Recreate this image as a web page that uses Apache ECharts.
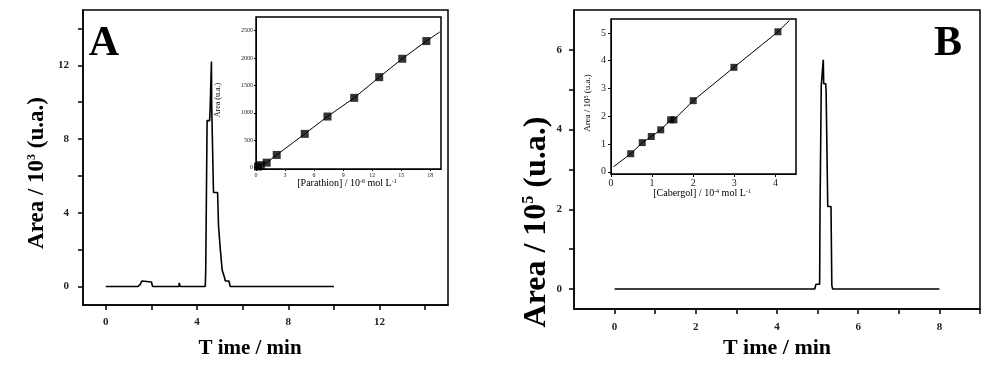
<!DOCTYPE html>
<html><head><meta charset="utf-8">
<script src="https://cdn.jsdelivr.net/npm/echarts@6/dist/echarts.min.js"></script>
<style>html,body{margin:0;padding:0;background:#fff}#c{width:1000px;height:379px}</style>
</head><body><div id="c"></div>
<script>
// Panel A chromatogram (time in min, area /10^3)
const chromA_t = [0,0.25,0.3,0.35,0.6,0.65,0.7,1.4,1.45,1.5,1.58,1.65,2.0,2.05,3.2,3.22,3.26,4.36,4.38,4.42,4.44,4.55,4.57,4.62,4.63,4.64,4.7,4.72,4.9,4.94,5.0,5.02,5.08,5.1,5.2,5.24,5.4,5.45,10];
const chromA_v = [0,0,-0.1,0,0,-0.1,0,0,-0.08,0.1,0.3,0.25,0.25,0,0,0.2,0,0,0.9,0.9,9.0,9.0,9.5,9.5,12.2,9.9,9.9,5.1,5.1,3.3,3.3,2.0,2.0,0.9,0.5,0.3,0.3,0,0];
// Panel A inset calibration
const calibA_conc = [0.2,0.5,1.1,2.14,5.03,7.38,10.14,12.72,15.1,17.59];
const calibA_area = [20,45,91,232,616,933,1274,1652,1988,2311];
const calibA_lineX = [0.05,0.2,0.5,1.1,2.14,5.03,7.38,10.14,12.72,15.1,17.59,18.97];
const calibA_lineY = [10,20,45,91,232,616,933,1274,1652,1988,2311,2476];
// Panel B chromatogram (time in min, area /10^5)
const chromB_t = [0,4.93,4.96,5.05,5.06,5.08,5.09,5.13,5.14,5.15,5.2,5.21,5.24,5.25,5.33,5.35,5.37,8];
const chromB_v = [0,0,0.12,0.12,2.0,2.0,5.1,5.1,5.75,5.15,5.15,4.95,4.95,2.07,2.07,0.1,0,0];
// Panel B inset calibration
const calibB_conc = [0.48,0.76,0.98,1.21,1.45,1.53,2.0,2.99,4.06];
const calibB_area = [0.65,1.05,1.27,1.51,1.87,1.87,2.56,3.76,5.04];
const calibB_lineX = [0.06,0.48,0.76,0.98,1.21,1.45,1.53,2.0,2.99,4.06,4.34];
const calibB_lineY = [0.18,0.65,1.05,1.27,1.51,1.87,1.87,2.56,3.76,5.04,5.45];
// tick values
const ticksA_x = [0,2,4,6,8,10,12,14], labelsA_x = [0,4,8,12];
const ticksA_y = [0,2,4,6,8,10,12,14], labelsA_y = [0,4,8,12];
const ticksAi_x = [0,3,6,9,12,15,18];
const ticksAi_y = [0,500,1000,1500,2000,2500];
const ticksB_x = [0,1,2,3,4,5,6,7,8,9], labelsB_x = [0,2,4,6,8];
const ticksB_y = [0,1,2,3,4,5,6], labelsB_y = [0,2,4,6];
const ticksBi_x = [0,1,2,3,4];
const ticksBi_y = [0,1,2,3,4,5];

const zip = (a,b) => a.map((v,i)=>[v,b[i]]);
const SERIF = '"Liberation Serif", "DejaVu Serif", serif';

function axis(grid, min, max, ticks, labels, o) {
  return {
    type:'value', gridIndex:grid, min:min, max:max,
    axisLine:{show:true, onZero:false, lineStyle:{color:'#000', width:o.lw}},
    axisTick:{show:true, customValues:ticks, length:o.tl, inside:false, lineStyle:{color:'#000', width:o.lw}},
    axisLabel:{show:true, customValues:labels, margin:o.m, fontFamily:SERIF, fontSize:o.fs, fontWeight:o.fw||'bold', color:'#222',
      formatter:(v)=>String(v)},
    splitLine:{show:false}
  };
}

const chart = echarts.init(document.getElementById('c'));
chart.setOption({
  backgroundColor:'#fff',
  animation:false,
  grid:[
    {left:83, top:10, width:365, height:295, show:true, borderColor:'#000', borderWidth:1.5, backgroundColor:'transparent'},
    {left:256, top:17, width:185, height:152, show:true, borderColor:'#000', borderWidth:1.5, backgroundColor:'#fff'},
    {left:574, top:10, width:406, height:299, show:true, borderColor:'#000', borderWidth:1.5, backgroundColor:'transparent'},
    {left:611, top:19, width:185, height:155, show:true, borderColor:'#000', borderWidth:1.5, backgroundColor:'#fff'}
  ],
  xAxis:[
    axis(0,-1,15,ticksA_x,labelsA_x,{lw:1.5,tl:5,m:12,fs:11}),
    axis(1,0,19.1,ticksAi_x,ticksAi_x,{lw:1,tl:2,m:3,fs:6,fw:'normal'}),
    axis(2,-1,9,ticksB_x,labelsB_x,{lw:1.5,tl:5,m:13,fs:11}),
    axis(3,0,4.5,ticksBi_x,ticksBi_x,{lw:1,tl:3,m:4,fs:10,fw:'normal'})
  ],
  yAxis:[
    axis(0,-1,15,ticksA_y,labelsA_y,{lw:1.5,tl:5,m:14,fs:11}),
    axis(1,-25,2750,ticksAi_y,ticksAi_y,{lw:1,tl:2,m:3,fs:6,fw:'normal'}),
    axis(2,-0.5,7,ticksB_y,labelsB_y,{lw:1.5,tl:5,m:12,fs:11}),
    axis(3,-0.08,5.5,ticksBi_y,ticksBi_y,{lw:1,tl:3,m:5,fs:10,fw:'normal'})
  ],
  series:[
    {type:'line', xAxisIndex:0, yAxisIndex:0, data:zip(chromA_t,chromA_v), showSymbol:false, lineStyle:{color:'#000', width:1.6}},
    {type:'line', xAxisIndex:1, yAxisIndex:1, data:zip(calibA_lineX,calibA_lineY), showSymbol:false, lineStyle:{color:'#000', width:1}},
    {type:'scatter', xAxisIndex:1, yAxisIndex:1, data:zip(calibA_conc,calibA_area), symbol:'rect', symbolSize:8, itemStyle:{color:'#000'}},
    {type:'line', xAxisIndex:2, yAxisIndex:2, data:zip(chromB_t,chromB_v), showSymbol:false, lineStyle:{color:'#000', width:1.6}},
    {type:'line', xAxisIndex:3, yAxisIndex:3, data:zip(calibB_lineX,calibB_lineY), showSymbol:false, lineStyle:{color:'#000', width:1}},
    {type:'scatter', xAxisIndex:3, yAxisIndex:3, data:zip(calibB_conc,calibB_area), symbol:'rect', symbolSize:7, itemStyle:{color:'#000'}}
  ],
  graphic:[
    {type:'text', x:104, y:44, style:{text:'A', font:'bold 42px '+SERIF, fill:'#000', textAlign:'center', textVerticalAlign:'middle'}},
    {type:'text', x:948, y:44, style:{text:'B', font:'bold 42px '+SERIF, fill:'#000', textAlign:'center', textVerticalAlign:'middle'}},
    {type:'text', x:250, y:349, style:{text:'T ime / min', font:'bold 21px '+SERIF, fill:'#000', textAlign:'center', textVerticalAlign:'middle'}},
    {type:'text', x:777, y:348, style:{text:'T ime / min', font:'bold 22px '+SERIF, fill:'#000', textAlign:'center', textVerticalAlign:'middle'}},
    {type:'text', x:37, y:173, rotation:Math.PI/2, style:{text:'{m|Area / 10}{s|3}{m| (u.a.)}', textAlign:'center', textVerticalAlign:'middle',
      rich:{m:{font:'bold 23px '+SERIF, fill:'#000'}, s:{font:'bold 12px '+SERIF, fill:'#000', verticalAlign:'top'}}}},
    {type:'text', x:537, y:222, rotation:Math.PI/2, style:{text:'{m|Area / 10}{s|5}{m| (u.a.)}', textAlign:'center', textVerticalAlign:'middle',
      rich:{m:{font:'bold 32px '+SERIF, fill:'#000'}, s:{font:'bold 16px '+SERIF, fill:'#000', verticalAlign:'top'}}}},
    {type:'text', x:218, y:100, rotation:Math.PI/2, style:{text:'Area (u.a.)', font:'8px '+SERIF, fill:'#000', textAlign:'center', textVerticalAlign:'middle'}},
    {type:'text', x:347, y:183, style:{text:'{m|[Parathion] / 10}{s|-6}{m| mol L}{s|-1}', textAlign:'center', textVerticalAlign:'middle',
      rich:{m:{font:'10px '+SERIF, fill:'#000'}, s:{font:'6px '+SERIF, fill:'#000', verticalAlign:'top'}}}},
    {type:'text', x:588, y:103, rotation:Math.PI/2, style:{text:'{m|Area / 10}{s|5}{m| (u.a.)}', textAlign:'center', textVerticalAlign:'middle',
      rich:{m:{font:'9px '+SERIF, fill:'#000'}, s:{font:'6px '+SERIF, fill:'#000', verticalAlign:'top'}}}},
    {type:'text', x:702, y:193, style:{text:'{m|[Cabergol] / 10}{s|-4}{m| mol L}{s|-1}', textAlign:'center', textVerticalAlign:'middle',
      rich:{m:{font:'10px '+SERIF, fill:'#000'}, s:{font:'6px '+SERIF, fill:'#000', verticalAlign:'top'}}}}
  ]
});
</script></body></html>
